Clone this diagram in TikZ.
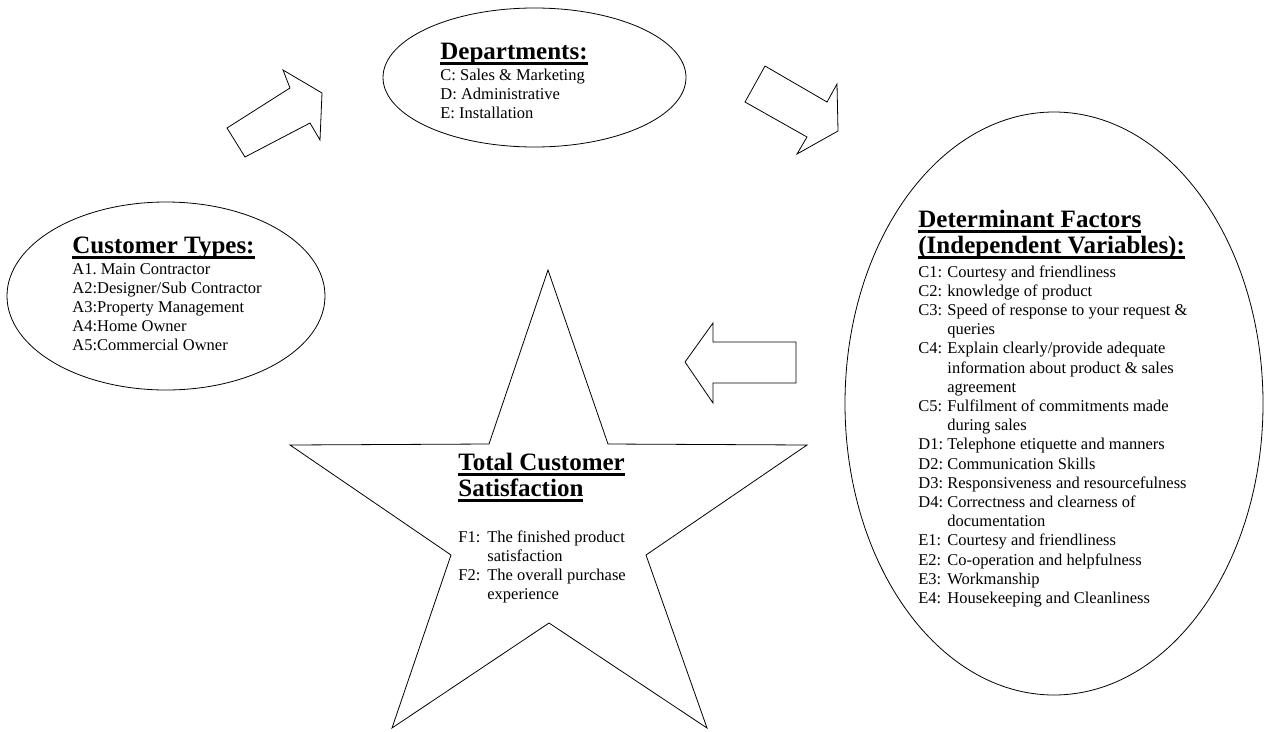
\documentclass[tikz,border=0pt]{standalone}
\usepackage{fontspec}
\setmainfont{Liberation Serif}
\usetikzlibrary{shapes.geometric}

\newcommand{\hdg}[1]{\sbox0{#1}\rlap{\rule[-6pt]{\wd0}{2.6pt}}\usebox0}
\newcommand{\itemlab}[1]{\makebox[29pt][l]{#1}}
\newcommand{\indt}{\hspace*{29pt}}

\begin{document}
\frenchspacing
\begin{tikzpicture}[x=1pt,y=-1pt,line width=0.8pt]
\tikzstyle{blob}=[ellipse,draw,inner sep=0pt]
\tikzstyle{head}=[anchor=base west,inner sep=0pt,font=\fontsize{25}{26}\selectfont\bfseries]
\tikzstyle{list}=[anchor=base west,inner sep=0pt,font=\fontsize{16.5}{19.2}\selectfont]
\tikzstyle{block}=[draw,line join=miter]

\useasboundingbox (0,0) rectangle (1265,731);

% ellipses
\node[blob,minimum width=318pt,minimum height=188pt] (cust) at (166,296) {};
\node[blob,minimum width=303pt,minimum height=139pt] (dept) at (534.5,77.5) {};
\node[blob,minimum width=418pt,minimum height=583pt] (factors) at (1054,403.5) {};

% star
\draw (548,270) -- (608,444) -- (807,445) -- (646,555) -- (707,728) -- (549,623)
  -- (392,728) -- (451,555) -- (290,445) -- (489,444) -- cycle;

% block arrows
\draw[block] (227,128) -- (290,88) -- (283,70) -- (322,93) -- (320,140) -- (310,123) -- (245,157) -- cycle;
\draw[block] (765,66) -- (827,102) -- (837,84) -- (838,131) -- (797,154) -- (807,137) -- (745,102) -- cycle;
\draw[block] (685,362) -- (713,323) -- (713,342) -- (796,342) -- (796,383) -- (713,383) -- (713,403) -- cycle;

% customer types
\node[head] (custhead) at (72,253) {\hdg{Customer Types:}};
\node[list] (custlist) at (72,274) {\begin{tabular}[t]{@{}l@{}}
A1. Main Contractor\\
A2:Designer/Sub Contractor\\
A3:Property Management\\
A4:Home Owner\\
A5:Commercial Owner
\end{tabular}};

% departments
\node[head] (depthead) at (440,59) {\hdg{Departments:}};
\node[list] (deptlist) at (440,80) {\begin{tabular}[t]{@{}l@{}}
C: Sales \& Marketing\\
D: Administrative\\
E: Installation
\end{tabular}};

% determinant factors
\node[head] (facthead) at (918,227) {\begin{tabular}[t]{@{}l@{}}
\hdg{Determinant Factors}\\
\hdg{(Independent Variables):}
\end{tabular}};
\node[list] (factlist) at (918,277) {\begin{tabular}[t]{@{}l@{}}
\itemlab{C1:}Courtesy and friendliness\\
\itemlab{C2:}knowledge of product\\
\itemlab{C3:}Speed of response to your request \&\\
\indt queries\\
\itemlab{C4:}Explain clearly/provide adequate\\
\indt information about product \& sales\\
\indt agreement\\
\itemlab{C5:}Fulfilment of commitments made\\
\indt during sales\\
\itemlab{D1:}Telephone etiquette and manners\\
\itemlab{D2:}Communication Skills\\
\itemlab{D3:}Responsiveness and resourcefulness\\
\itemlab{D4:}Correctness and clearness of\\
\indt documentation\\
\itemlab{E1:}Courtesy and friendliness\\
\itemlab{E2:}Co-operation and helpfulness\\
\itemlab{E3:}Workmanship\\
\itemlab{E4:}Housekeeping and Cleanliness
\end{tabular}};

% total customer satisfaction
\node[head] (totalhead) at (458,470) {\begin{tabular}[t]{@{}l@{}}
\hdg{Total Customer}\\
\hdg{Satisfaction}
\end{tabular}};
\node[list] (totallist) at (458,542) {\begin{tabular}[t]{@{}l@{}}
\itemlab{F1:}The finished product\\
\indt satisfaction\\
\itemlab{F2:}The overall purchase\\
\indt experience
\end{tabular}};

\end{tikzpicture}
\end{document}
